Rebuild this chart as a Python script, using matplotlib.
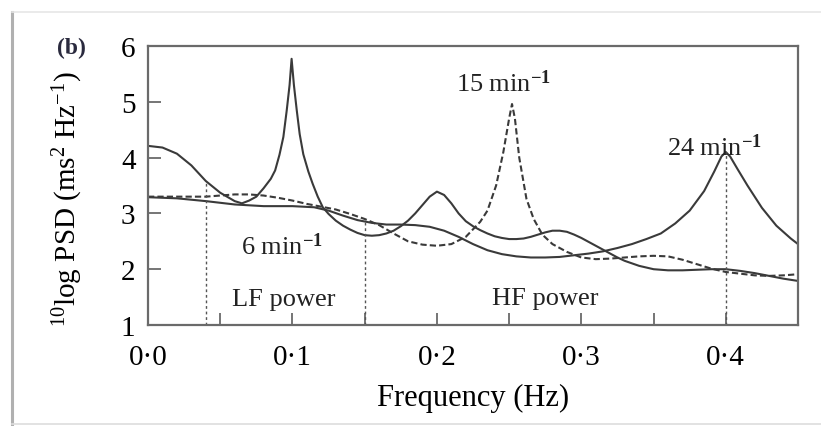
import matplotlib
matplotlib.use('Agg')
import matplotlib.pyplot as plt
from matplotlib.lines import Line2D

plt.rcParams['font.family'] = ['Liberation Serif', 'DejaVu Serif']
plt.rcParams['mathtext.fontset'] = 'custom'
plt.rcParams['mathtext.rm'] = 'Liberation Serif'
plt.rcParams['mathtext.it'] = 'Liberation Serif:italic'
plt.rcParams['mathtext.bf'] = 'Liberation Serif:bold'

# breathing at 6 min-1 (solid, peak at 0.1 Hz)
freq_6 = [0.0, 0.01, 0.02, 0.03, 0.04, 0.05, 0.06, 0.065, 0.07, 0.075, 0.08, 0.085,
          0.088, 0.091, 0.0937, 0.096, 0.098, 0.0994, 0.101, 0.103, 0.105, 0.1075,
          0.111, 0.114, 0.1175, 0.121, 0.125, 0.13, 0.135, 0.14, 0.145, 0.15, 0.155,
          0.16, 0.165, 0.17, 0.175, 0.18, 0.185, 0.19, 0.195, 0.2, 0.205, 0.21, 0.215,
          0.22, 0.225, 0.23, 0.235, 0.24, 0.245, 0.25, 0.255, 0.26, 0.265, 0.27, 0.275,
          0.28, 0.285, 0.29, 0.295, 0.3, 0.305, 0.31, 0.315, 0.32, 0.325, 0.33, 0.34,
          0.35, 0.36, 0.37, 0.38, 0.39, 0.4, 0.41, 0.42, 0.43, 0.44, 0.45]
psd_6 = [4.21, 4.18, 4.07, 3.86, 3.58, 3.37, 3.22, 3.18, 3.23, 3.3, 3.45, 3.62,
         3.77, 4.05, 4.37, 4.84, 5.3, 5.77, 5.3, 4.84, 4.42, 4.06,
         3.75, 3.53, 3.3, 3.11, 2.99, 2.87, 2.78, 2.71, 2.65, 2.61, 2.6,
         2.61, 2.64, 2.69, 2.77, 2.87, 3.0, 3.15, 3.3, 3.39, 3.33, 3.18, 3.0,
         2.86, 2.77, 2.7, 2.64, 2.59, 2.56, 2.54, 2.54, 2.55, 2.58, 2.62, 2.66,
         2.69, 2.69, 2.67, 2.62, 2.56, 2.49, 2.42, 2.35, 2.28, 2.21, 2.15, 2.06,
         2.0, 1.98, 1.98, 1.99, 2.0, 2.0, 1.97, 1.93, 1.88, 1.83, 1.79]

# breathing at 15 min-1 (dashed, peak at 0.25 Hz)
freq_15 = [0.0, 0.02, 0.04, 0.05, 0.06, 0.07, 0.08, 0.09, 0.1, 0.11, 0.12, 0.13,
           0.14, 0.15, 0.16, 0.17, 0.18, 0.19, 0.2, 0.21, 0.22, 0.23, 0.235, 0.241,
           0.246, 0.25, 0.252, 0.254, 0.257, 0.262, 0.267, 0.273, 0.28, 0.29, 0.3,
           0.31, 0.32, 0.33, 0.34, 0.35, 0.36, 0.37, 0.38, 0.39, 0.4, 0.41, 0.42,
           0.43, 0.44, 0.45]
psd_15 = [3.3, 3.3, 3.3, 3.32, 3.34, 3.34, 3.32, 3.28, 3.23, 3.17, 3.12, 3.07,
          2.99, 2.9, 2.79, 2.64, 2.5, 2.44, 2.42, 2.45, 2.58, 2.85, 3.05, 3.5,
          4.1, 4.7, 4.96, 4.7, 4.0, 3.26, 2.9, 2.62, 2.45, 2.31, 2.21,
          2.18, 2.19, 2.21, 2.23, 2.24, 2.23, 2.17, 2.09, 2.01, 1.95, 1.92, 1.89,
          1.88, 1.89, 1.91]

# breathing at 24 min-1 (solid, peak at 0.4 Hz)
freq_24 = [0.0, 0.02, 0.04, 0.06, 0.08, 0.1, 0.115, 0.125, 0.135, 0.145, 0.155,
           0.165, 0.175, 0.185, 0.195, 0.205, 0.215, 0.225, 0.235, 0.245, 0.255,
           0.265, 0.275, 0.285, 0.295, 0.305, 0.315, 0.325, 0.335, 0.345, 0.355,
           0.365, 0.375, 0.385, 0.392, 0.397, 0.4, 0.403, 0.408, 0.415, 0.425,
           0.435, 0.445, 0.45]
psd_24 = [3.29, 3.27, 3.22, 3.16, 3.13, 3.13, 3.11, 3.05, 2.96, 2.88, 2.83,
          2.8, 2.8, 2.79, 2.76, 2.69, 2.58, 2.45, 2.34, 2.27, 2.23,
          2.21, 2.21, 2.22, 2.25, 2.28, 2.32, 2.38, 2.45, 2.54, 2.64,
          2.82, 3.05, 3.4, 3.75, 4.02, 4.1, 4.02, 3.8, 3.5, 3.1,
          2.78, 2.55, 2.45]

# band limits (vertical dashed lines) and their upper ends
band_freq = [0.04, 0.15, 0.4]
band_top = [3.58, 2.88, 4.1]

xticks = [0.0, 0.1, 0.2, 0.3, 0.4]
xtick_labels = ['0\u00b70', '0\u00b71', '0\u00b72', '0\u00b73', '0\u00b74']
yticks = [1, 2, 3, 4, 5, 6]

line_col = '#3a3a3a'
axis_col = '#6a6a6a'

fig = plt.figure(figsize=(8.21, 4.27), dpi=100)
ax = fig.add_axes([0.1803, 0.2365, 0.7917, 0.6535])

ax.plot(freq_6, psd_6, color=line_col, lw=1.5)
ax.plot(freq_24, psd_24, color=line_col, lw=1.5)
ax.plot(freq_15, psd_15, color=line_col, lw=1.5, linestyle=(0, (3, 1.5)))
for f, top in zip(band_freq, band_top):
    ax.plot([f, f], [1, top], color='#555555', lw=1.0, linestyle=(0, (2, 2)))

ax.set_xlim(0, 0.45)
ax.set_ylim(1, 6)
ax.set_xticks(xticks)
ax.set_xticklabels(xtick_labels)
ax.set_xticks([0.05, 0.15, 0.25, 0.35, 0.45], minor=True)
ax.set_yticks(yticks)
ax.tick_params(axis='both', which='both', direction='in', length=9, width=1.3,
               color=axis_col, labelsize=21)
ax.tick_params(axis='x', which='both', pad=14)
ax.tick_params(axis='y', pad=9)
for s in ax.spines.values():
    s.set_color(axis_col)
    s.set_linewidth(1.6)

ax.set_xlabel('Frequency (Hz)', fontsize=22, labelpad=9)
ax.set_ylabel(r'$^{10}$log PSD (ms$^2$ Hz$^{-1}$)', fontsize=21)
ax.yaxis.set_label_coords(-0.097, 0.455)

txt = dict(fontsize=19, ha='center', va='center', color='#222222')
ax.text(0.093, 2.42, r'6 min$^{\mathbf{-1}}$', **txt)
ax.text(0.246, 5.35, r'15 min$^{\mathbf{-1}}$', **txt)
ax.text(0.392, 4.19, r'24 min$^{\mathbf{-1}}$', **txt)
ax.text(0.094, 1.47, 'LF power', **txt)
ax.text(0.275, 1.48, 'HF power', **txt)

fig.text(0.087, 0.887, '(b)', fontsize=17, fontweight='bold', color='#2a2a3e',
         ha='center', va='center')

# light frame of the original screenshot
fig.add_artist(Line2D([0.0146, 0.0146], [0.0, 0.97], color='#b0b0b0', lw=2.2))
fig.add_artist(Line2D([0.0146, 1.0], [0.97, 0.97], color='#e6e6e6', lw=1.2))
fig.add_artist(Line2D([0.0146, 1.0], [0.005, 0.005], color='#dddddd', lw=1.2))

fig.savefig('out.png', dpi=100)
